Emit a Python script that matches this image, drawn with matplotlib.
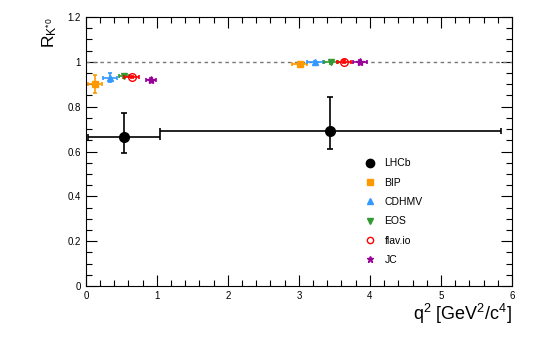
import numpy as np
import matplotlib
matplotlib.use("Agg")
import matplotlib.pyplot as plt
from matplotlib.lines import Line2D
from matplotlib.ticker import MultipleLocator, FormatStrFormatter

plt.rcParams['font.family'] = ['Liberation Sans', 'DejaVu Sans']
plt.rcParams['mathtext.fontset'] = 'custom'
plt.rcParams['mathtext.rm'] = 'Liberation Sans'
plt.rcParams['mathtext.it'] = 'Liberation Sans'

# LHCb measurement
lhcb_x = [0.535, 3.44]
lhcb_xlo = [0.03, 1.04]
lhcb_xhi = [1.04, 5.85]
lhcb_y = [0.664, 0.69]
lhcb_ylo = [0.592, 0.61]
lhcb_yhi = [0.771, 0.845]

# theory predictions: (x, xerr, y, yerr)
names = ["BIP", "CDHMV", "EOS", "flav.io", "JC"]
th_x = {"BIP": [0.127, 3.01], "CDHMV": [0.338, 3.23], "EOS": [0.54, 3.45],
        "flav.io": [0.643, 3.64], "JC": [0.915, 3.86]}
th_xerr = {"BIP": [0.1, 0.1], "CDHMV": [0.095, 0.11], "EOS": [0.07, 0.1],
           "flav.io": [0.1, 0.1], "JC": [0.07, 0.1]}
th_y = {"BIP": [0.902, 0.991], "CDHMV": [0.93, 0.997], "EOS": [0.935, 1.0],
        "flav.io": [0.932, 1.0], "JC": [0.92, 1.0]}
th_yerr = {"BIP": [0.04, 0.006], "CDHMV": [0.019, 0.006], "EOS": [0.008, 0.01],
           "flav.io": [0.006, 0.006], "JC": [0.008, 0.008]}

styles = {"BIP": dict(marker='s', color='#ff9900', mfc='#ff9900', ms=5),
          "CDHMV": dict(marker='^', color='#3399ff', mfc='#3399ff', ms=5),
          "EOS": dict(marker='v', color='#339933', mfc='#339933', ms=5),
          "flav.io": dict(marker='o', color='#ff0000', mfc='none', ms=5.5),
          "JC": dict(marker='*', color='#990099', mfc='#990099', ms=6)}

fig = plt.figure(figsize=(5.4, 3.39), dpi=100)
ax = fig.add_axes([0.159, 0.156, 0.789, 0.794])

ax.axhline(1.0, color='#777777', ls=(0, (2.5, 2.5)), lw=1)

x = np.array(lhcb_x)
y = np.array(lhcb_y)
xe = [x - np.array(lhcb_xlo), np.array(lhcb_xhi) - x]
ye = [y - np.array(lhcb_ylo), np.array(lhcb_yhi) - y]
ax.errorbar(x, y, xerr=xe, yerr=ye, fmt='o', color='black', ms=7,
            elinewidth=1.2, capsize=2, capthick=1.2, zorder=5)

for n in names:
    st = styles[n]
    ax.errorbar(th_x[n], th_y[n], xerr=th_xerr[n], yerr=th_yerr[n], fmt='none',
                ecolor=st['color'], elinewidth=1.2, capsize=1.5, capthick=1.2)
    ax.plot(th_x[n], th_y[n], ls='none', marker=st['marker'], color=st['color'],
            mfc=st['mfc'], mec=st['color'], ms=st['ms'], mew=1)

ax.set_xlim(0, 6)
ax.set_ylim(0, 1.2)
ax.xaxis.set_major_locator(MultipleLocator(1))
ax.xaxis.set_minor_locator(MultipleLocator(0.2))
ax.yaxis.set_major_locator(MultipleLocator(0.2))
ax.yaxis.set_minor_locator(MultipleLocator(0.05))
ax.yaxis.set_major_formatter(FormatStrFormatter('%g'))
ax.xaxis.set_major_formatter(FormatStrFormatter('%g'))
ax.tick_params(which='both', direction='in', top=True, right=True, labelsize=7, width=0.8)
ax.tick_params(which='major', length=8)
ax.tick_params(which='minor', length=4)
for s in ax.spines.values():
    s.set_linewidth(0.8)

ax.set_xlabel(r'q$^2$ [GeV$^2$/c$^4$]', fontsize=13, loc='right', labelpad=1)
ax.set_ylabel(r'R$_{\mathregular{K^{*0}}}$', fontsize=12.5, loc='top', labelpad=6)

handles = [Line2D([], [], ls='none', marker='o', color='black', ms=6)]
for n in names:
    st = styles[n]
    handles.append(Line2D([], [], ls='none', marker=st['marker'], color=st['color'],
                          mfc=st['mfc'], mec=st['color'], ms=4.5, mew=1))
ax.legend(handles, ["LHCb"] + names, loc='upper left', bbox_to_anchor=(0.62, 0.51),
          frameon=False, fontsize=7.5, labelspacing=0.9, handletextpad=0.4)

fig.savefig("out.png", dpi=100)
